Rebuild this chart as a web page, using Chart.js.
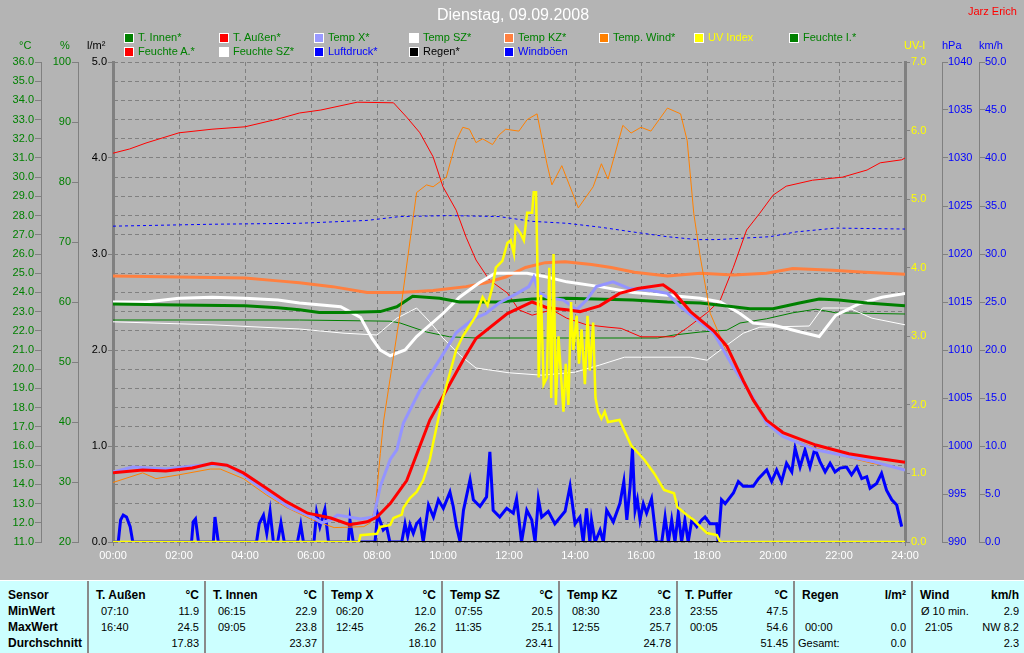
<!DOCTYPE html>
<html>
<head>
<meta charset="utf-8">
<script src="https://cdn.jsdelivr.net/npm/chart.js@4.4.0/dist/chart.umd.min.js"></script>
<style>
  html, body { margin: 0; padding: 0; background: #b4b4b4; }
  #wrap { position: relative; width: 1024px; height: 653px; overflow: hidden; font-family: "Liberation Sans", Arial, sans-serif; }
  #c { position: absolute; left: 0; top: 0; }
  .txt { position: absolute; white-space: nowrap; font-size: 11px; line-height: 13px; }
  .box { position: absolute; width: 8px; height: 8px; border: 1px solid #fff; }
  #tbl { position: absolute; left: 0; top: 580px; width: 1024px; height: 73px; background: #ccffff; border-top: 1px solid #fff; }
  .sep { position: absolute; top: 0; width: 2px; height: 73px; background: #8a8a8a; }
  .cell { position: absolute; white-space: nowrap; font-size: 11px; line-height: 16px; color: #000; }
  .b { font-weight: bold; font-size: 12px; }
</style>
</head>
<body>
<div id="wrap">
  <canvas id="c" width="1024" height="578"></canvas>
  <div id="tbl"></div>
</div>
<script>
// ---- chart data (hours of day -> value) ----
const tAussenT = [0, 0.9, 1.6, 2.4, 3.0, 3.45, 3.95, 4.65, 5.25, 5.9, 6.6, 7.17, 7.7, 8.0, 8.4, 8.9, 9.6, 10.2, 10.65, 11.0, 11.95, 12.7, 13.15, 13.75, 14.15, 14.75, 15.35, 15.9, 16.67, 17.0, 17.5, 18.2, 18.6, 19.1, 19.4, 19.8, 20.3, 21.3, 22.3, 23.0, 24.0];
const tAussenV = [14.6, 14.75, 14.7, 14.85, 15.1, 15.0, 14.6, 13.8, 13.1, 12.5, 12.25, 11.9, 12.05, 12.3, 13.0, 14.2, 17.35, 19.2, 20.6, 21.6, 22.9, 23.5, 23.2, 23.1, 23.0, 23.3, 23.95, 24.2, 24.4, 24.0, 23.0, 22.0, 21.2, 19.4, 18.4, 17.35, 16.7, 16.05, 15.6, 15.4, 15.15];

const tempXT = [0, 0.6, 1.6, 2.95, 3.45, 3.95, 4.65, 5.35, 6.05, 6.33, 6.6, 6.8, 7.5, 7.9, 8.1, 8.4, 8.6, 8.8, 9.3, 9.9, 10.4, 10.9, 11.3, 11.7, 12.25, 12.6, 12.75, 12.9, 13.15, 13.65, 14.05, 14.35, 14.65, 15.15, 15.65, 16.3, 16.8, 17.2, 17.6, 18.2, 18.8, 19.4, 19.8, 20.3, 21.3, 22.3, 23.0, 24.0];
const tempXV = [14.65, 14.9, 14.8, 15.05, 15.0, 14.5, 13.6, 12.8, 12.3, 12.0, 12.15, 12.4, 12.2, 12.3, 13.9, 15.3, 15.8, 17.2, 18.9, 20.5, 21.9, 22.6, 22.9, 23.45, 23.95, 24.3, 24.8, 24.0, 23.75, 23.6, 23.1, 23.6, 24.3, 24.55, 24.2, 24.1, 23.95, 23.25, 22.7, 21.9, 20.1, 18.5, 17.2, 16.5, 15.8, 15.45, 15.2, 14.75];

const tempWindT = [0, 0.9, 1.3, 2.0, 2.95, 3.25, 3.95, 4.65, 5.25, 6.05, 6.7, 7.6, 7.8, 7.95, 8.1, 8.2, 8.7, 9.2, 9.5, 9.7, 10.1, 10.4, 10.6, 10.8, 11.0, 11.2, 11.5, 11.7, 11.9, 12.3, 12.55, 12.85, 13.15, 13.3, 13.6, 14.1, 14.55, 14.8, 15.0, 15.45, 15.7, 16.0, 16.3, 16.8, 17.2, 17.4, 17.6, 17.8, 18.1, 18.4, 18.6, 19.1, 19.4, 19.8, 20.3, 21.3, 22.3, 23.0, 24.0];
const tempWindV = [14.1, 14.6, 14.3, 14.5, 14.8, 14.8, 14.3, 13.45, 12.8, 12.15, 11.75, 11.8, 12.0, 12.8, 15.6, 17.3, 22.9, 29.2, 29.6, 29.5, 30.0, 31.9, 32.6, 32.5, 31.8, 32.0, 31.7, 32.2, 32.5, 32.4, 33.0, 33.3, 30.7, 29.6, 30.6, 28.4, 29.5, 30.7, 29.9, 32.7, 32.3, 32.6, 32.4, 33.6, 33.3, 31.9, 28.1, 25.8, 22.9, 21.7, 20.8, 19.3, 18.3, 17.2, 16.5, 15.9, 15.4, 15.1, 14.8];

const tempSZT = [0, 1, 2, 3, 4, 5, 5.65, 6.9, 7.5, 7.85, 8.1, 8.4, 8.85, 9.2, 10.0, 10.5, 11.1, 11.58, 12.55, 13.15, 13.75, 14.75, 15.75, 16.8, 17.8, 18.4, 19.0, 19.4, 20.0, 20.8, 21.4, 21.9, 22.6, 23.3, 24.0];
const tempSZV = [23.5, 23.5, 23.7, 23.75, 23.7, 23.6, 23.45, 23.25, 22.7, 21.6, 21.0, 20.7, 21.0, 21.7, 22.9, 23.75, 24.5, 25.0, 25.0, 24.8, 24.55, 24.3, 24.0, 23.85, 23.7, 23.5, 22.9, 22.4, 22.3, 21.95, 21.7, 22.8, 23.4, 23.75, 23.95];

const tempKZT = [0, 2, 4, 5, 5.65, 6.65, 7.7, 8.7, 9.7, 10.7, 11.3, 11.9, 12.5, 13.1, 13.7, 14.5, 15.1, 15.8, 16.8, 17.8, 18.8, 19.8, 20.6, 21.8, 22.8, 24];
const tempKZV = [24.85, 24.8, 24.75, 24.6, 24.5, 24.3, 24.0, 24.0, 24.1, 24.3, 24.5, 24.8, 25.3, 25.55, 25.6, 25.45, 25.3, 25.05, 24.85, 25.0, 24.9, 25.0, 25.25, 25.15, 25.05, 24.95];

const tInnenT = [0, 2, 4, 5, 5.65, 6.25, 7, 8.1, 8.6, 9.08, 9.9, 10.5, 11.7, 12.7, 13.75, 15.75, 16.8, 17.8, 18.8, 19.3, 20.0, 20.8, 21.4, 22.0, 22.85, 24.0];
const tInnenV = [23.4, 23.35, 23.3, 23.2, 23.1, 22.95, 22.95, 23.0, 23.25, 23.8, 23.7, 23.5, 23.5, 23.65, 23.7, 23.6, 23.5, 23.45, 23.25, 23.15, 23.15, 23.45, 23.65, 23.6, 23.45, 23.3];

const feuchteIT = [0, 5.65, 8.4, 8.7, 9.5, 10.2, 11, 14, 16.5, 17.0, 17.8, 18.6, 19.0, 19.8, 20.6, 21.3, 21.9, 24];
const feuchteIV = [57, 57, 56.8, 56.5, 55, 54.2, 54, 54, 54, 54.5, 55, 55.3, 56.5, 57.2, 58.2, 58.8, 58.2, 58];

const feuchteAT = [0, 0.5, 1, 2, 3, 4, 5, 5.65, 6.3, 7.4, 8.5, 8.9, 9.3, 9.7, 10.0, 10.4, 10.7, 11.0, 11.4, 11.95, 12.3, 12.7, 13.3, 13.75, 14.35, 15.0, 15.4, 16.0, 17.0, 17.4, 18.0, 18.4, 18.8, 19.2, 19.6, 20.0, 20.4, 21.2, 22.1, 22.85, 23.25, 23.9, 24];
const feuchteAV = [84.8, 85.5, 86.5, 88.2, 88.8, 89.2, 90.5, 91.5, 92, 93.3, 93.2, 90.8, 88.2, 84.2, 79.2, 75.3, 70.8, 67, 63.7, 61.5, 58.7, 57.8, 58.7, 57.3, 56.2, 55.8, 55.6, 54.2, 54.2, 55.7, 58.2, 60.3, 65.8, 72, 74.8, 77.8, 79.3, 80.3, 80.8, 82, 83.2, 83.7, 84];

const feuchteSZT = [0, 3, 5.65, 7.0, 8.0, 8.6, 9.2, 9.6, 10.0, 10.5, 11.0, 12, 13, 14, 14.75, 15.5, 17.5, 18.0, 18.6, 19.1, 19.6, 21.1, 21.5, 22.3, 23.0, 24];
const feuchteSZV = [56.7, 56.2, 55.5, 54.8, 54.5, 57.3, 59, 56.7, 54, 51.2, 49, 48.2, 47.8, 48.3, 49.5, 50.8, 50.8, 50.3, 52.8, 54.8, 55.8, 56, 59, 59, 57.3, 56.2];

const druckT = [0, 3, 5.65, 7.7, 8.7, 10.2, 11.7, 12.7, 13.75, 14.75, 15.75, 16.8, 17.7, 18.3, 19.9, 20.7, 21.9, 24];
const druckV = [1022.9, 1023.1, 1023.2, 1023.5, 1023.9, 1024.0, 1023.9, 1023.4, 1023.2, 1022.8, 1022.3, 1021.8, 1021.5, 1021.5, 1021.8, 1022.3, 1022.7, 1022.6];

const regenT = [0, 24];
const regenV = [0, 0];

const uvT = [0, 7.45, 7.5, 8.0, 8.1, 8.4, 8.5, 8.75, 8.8, 9.0, 9.2, 9.4, 9.6, 9.7, 9.85, 10.0, 10.2, 10.4, 10.6, 10.8, 11.0, 11.2, 11.35, 11.5, 11.6, 11.8, 11.95, 12.05, 12.15, 12.2, 12.35, 12.45, 12.55, 12.7, 12.75, 12.82, 12.87, 12.9, 12.97, 13.05, 13.15, 13.22, 13.28, 13.35, 13.42, 13.5, 13.58, 13.65, 13.72, 13.8, 13.88, 13.95, 14.05, 14.12, 14.2, 14.3, 14.38, 14.45, 14.55, 14.62, 14.7, 14.8, 14.9, 15.0, 15.35, 15.7, 16.1, 16.4, 16.7, 17.0, 17.1, 17.4, 17.6, 17.8, 18.0, 18.3, 18.4, 24];
const uvV = [0, 0, 0.1, 0.12, 0.22, 0.25, 0.35, 0.4, 0.5, 0.64, 0.73, 0.9, 1.2, 1.44, 1.78, 2.1, 2.45, 2.8, 3.0, 3.15, 3.3, 3.57, 3.45, 3.72, 4.0, 4.1, 4.36, 4.4, 4.2, 4.6, 4.5, 4.4, 4.8, 4.8, 5.1, 5.1, 3.8, 2.4, 3.6, 2.3, 2.4, 4.0, 2.1, 4.2, 2.0, 3.0, 2.4, 1.9, 2.6, 2.0, 3.5, 2.8, 3.3, 2.6, 3.1, 2.3, 3.3, 2.5, 3.2, 2.1, 1.9, 1.8, 1.9, 1.75, 1.78, 1.41, 1.2, 1.0, 0.76, 0.71, 0.51, 0.39, 0.32, 0.22, 0.13, 0.1, 0, 0];

const windT = [0, 0.16, 0.23, 0.31, 0.41, 0.52, 0.6, 2.38, 2.43, 2.5, 2.59, 3.04, 3.09, 3.19, 4.35, 4.43, 4.56, 4.66, 4.76, 4.86, 4.99, 5.09, 5.19, 5.59, 5.69, 5.77, 6.09, 6.17, 6.27, 6.42, 6.53, 7.13, 7.18, 7.28, 7.94, 8.02, 8.19, 8.29, 8.39, 8.75, 8.85, 8.93, 9.0, 9.1, 9.2, 9.3, 9.4, 9.56, 9.71, 9.86, 10.01, 10.21, 10.31, 10.41, 10.52, 10.62, 10.82, 10.92, 11.12, 11.32, 11.42, 11.52, 11.72, 11.93, 12.13, 12.23, 12.38, 12.54, 12.69, 12.79, 12.89, 12.99, 13.19, 13.39, 13.7, 13.85, 14.0, 14.15, 14.25, 14.35, 14.45, 14.5, 14.61, 14.76, 14.86, 14.96, 15.16, 15.36, 15.48, 15.57, 15.67, 15.74, 15.82, 15.89, 15.97, 16.07, 16.17, 16.32, 16.47, 16.63, 16.73, 16.83, 16.93, 17.03, 17.13, 17.23, 17.33, 17.43, 17.54, 17.69, 17.84, 17.94, 18.09, 18.29, 18.34, 18.44, 18.55, 18.8, 18.95, 19.1, 19.4, 19.56, 19.81, 19.96, 20.11, 20.26, 20.41, 20.57, 20.67, 20.82, 20.97, 21.12, 21.27, 21.42, 21.58, 21.73, 21.88, 22.03, 22.23, 22.38, 22.54, 22.69, 22.84, 22.94, 23.14, 23.29, 23.44, 23.6, 23.75, 23.9];
const windV = [0, 0, 2.3, 2.8, 2.6, 1.6, 0, 0, 2.1, 2.4, 0, 0, 2.6, 0, 0, 1.9, 2.8, 0.9, 3.2, 0, 0, 2.0, 0, 0, 1.8, 0, 0, 3.1, 1.6, 3.4, 0, 0, 2.3, 0, 0, 2.9, 1.25, 1.6, 0, 0, 1.9, 0.6, 1.8, 0.9, 1.9, 2.3, 0, 3.85, 2.6, 4.4, 3.5, 5.2, 3.7, 1.6, 0, 3.3, 6.5, 4.4, 3.7, 4.7, 9.4, 3.3, 2.6, 3.5, 3.0, 4.5, 0, 3.3, 2.3, 0, 4.5, 2.6, 3.2, 1.9, 3.2, 5.8, 1.9, 2.6, 0, 3.5, 0, 2.3, 0, 1.25, 0, 3.3, 2.1, 4.0, 6.3, 2.3, 5.8, 9.75, 3.3, 4.4, 2.3, 4.0, 3.0, 4.5, 0, 0, 2.6, 0, 2.3, 0, 3.0, 0, 2.3, 0, 2.3, 1.6, 2.3, 2.6, 1.9, 1.9, 0, 4.4, 4.0, 5.1, 6.3, 5.8, 5.8, 6.6, 7.5, 6.3, 7.5, 6.3, 8.2, 7.3, 9.75, 7.8, 9.6, 7.8, 9.75, 8.4, 7.3, 8.2, 7.3, 7.7, 7.8, 7.0, 7.8, 6.6, 6.8, 5.6, 6.1, 7.15, 5.4, 4.4, 3.85, 1.6];

// ---- legend ----
const legendNames = ['T. Innen*', 'T. Außen*', 'Temp X*', 'Temp SZ*', 'Temp KZ*', 'Temp. Wind*', 'UV Index', 'Feuchte I.*',
                     'Feuchte A.*', 'Feuchte SZ*', 'Luftdruck*', 'Regen*', 'Windböen'];
const legendBoxes = ['#008000', '#ff0000', '#9999ff', '#ffffff', '#ff8040', '#ff8000', '#ffff00', '#008000',
                     '#ff0000', '#ffffff', '#0000ff', '#000000', '#0000ff'];
const legendText = ['#008000', '#008000', '#008000', '#008000', '#008000', '#008000', '#ffff00', '#008000',
                    '#008000', '#008000', '#0000ff', '#000000', '#0000ff'];

// ---- statistics table ----
const tblEdges = [0, 88, 205, 323, 442, 559, 677, 794, 912, 1024];
const rowNames = ['Sensor', 'MinWert', 'MaxWert', 'Durchschnitt'];
const tblHeads = ['T. Außen', 'T. Innen', 'Temp X', 'Temp SZ', 'Temp KZ', 'T. Puffer', 'Regen', 'Wind'];
const tblUnits = ['°C', '°C', '°C', '°C', '°C', '°C', 'l/m²', 'km/h'];
const minTimes = ['07:10', '06:15', '06:20', '07:55', '08:30', '23:55', '', 'Ø 10 min.'];
const minVals = ['11.9', '22.9', '12.0', '20.5', '23.8', '47.5', '', '2.9'];
const maxTimes = ['16:40', '09:05', '12:45', '11:35', '12:55', '00:05', '00:00', '21:05'];
const maxVals = ['24.5', '23.8', '26.2', '25.1', '25.7', '54.6', '0.0', 'NW 8.2'];
const avgNames = ['', '', '', '', '', '', 'Gesamt:', ''];
const avgVals = ['17.83', '23.37', '18.10', '23.41', '24.78', '51.45', '0.0', '2.3'];

const wrap = document.getElementById('wrap');
function addText(parent, cls, txt, left, top, color, extra) {
  const d = document.createElement('div');
  d.className = cls;
  d.textContent = txt;
  d.style.left = left + 'px';
  d.style.top = top + 'px';
  if (color) d.style.color = color;
  if (extra) Object.assign(d.style, extra);
  parent.appendChild(d);
  return d;
}

// title + author
addText(wrap, 'txt', 'Dienstag, 09.09.2008', 0, 6, '#ffffff', { width: '1026px', textAlign: 'center', fontSize: '16px', lineHeight: '18px' });
addText(wrap, 'txt', 'Jarz Erich', 968, 5, '#ff0000', { fontSize: '11px' });

// legend
legendNames.forEach((name, i) => {
  const col = i < 8 ? i : i - 8;
  const row = i < 8 ? 0 : 1;
  const x = 124 + col * 95;
  const y = 33 + row * 14;
  const b = document.createElement('div');
  b.className = 'box';
  b.style.left = x + 'px';
  b.style.top = y + 'px';
  b.style.background = legendBoxes[i];
  wrap.appendChild(b);
  addText(wrap, 'txt', name, x + 14, y - 2, legendText[i]);
});

// axis titles
addText(wrap, 'txt', '°C', 19, 39, '#008000');
addText(wrap, 'txt', '%', 60, 39, '#008000');
addText(wrap, 'txt', 'l/m²', 87, 39, '#000000');
addText(wrap, 'txt', 'UV-I', 904, 39, '#ffff00');
addText(wrap, 'txt', 'hPa', 942, 39, '#0000ff');
addText(wrap, 'txt', 'km/h', 979, 39, '#0000ff');

// table
const tbl = document.getElementById('tbl');
const rowTop = [6, 22, 38, 54];
rowNames.forEach((n, r) => addText(tbl, 'cell b', n, 8, rowTop[r]));
for (let c = 0; c < tblHeads.length; c++) {
  const l = tblEdges[c + 1];
  const r = tblEdges[c + 2];
  const rightPad = (1024 - r) + (c === 7 ? 5 : 6);
  const sep = document.createElement('div');
  sep.className = 'sep';
  sep.style.left = (l - 1) + 'px';
  tbl.appendChild(sep);
  addText(tbl, 'cell b', tblHeads[c], l + 8, rowTop[0]);
  addText(tbl, 'cell b', tblUnits[c], 0, rowTop[0], null, { left: 'auto', right: rightPad + 'px' });
  const tOff = c === 7 ? 9 : (c === 6 ? 11 : 13);
  addText(tbl, 'cell', minTimes[c], l + tOff, rowTop[1]);
  addText(tbl, 'cell', minVals[c], 0, rowTop[1], null, { left: 'auto', right: rightPad + 'px' });
  addText(tbl, 'cell', maxTimes[c], l + (c === 7 ? 13 : tOff), rowTop[2]);
  addText(tbl, 'cell', maxVals[c], 0, rowTop[2], null, { left: 'auto', right: rightPad + 'px' });
  addText(tbl, 'cell', avgNames[c], l + 4, rowTop[3]);
  addText(tbl, 'cell', avgVals[c], 0, rowTop[3], null, { left: 'auto', right: rightPad + 'px' });
}

// ---- chart ----
Chart.defaults.font.family = '"Liberation Sans", Arial, sans-serif';
Chart.defaults.font.size = 11;

const gridCol = '#808080';
const pts = (ts, vs) => ts.map((t, i) => ({ x: t, y: vs[i] }));
function series(label, ts, vs, color, width, axis, order, extra) {
  return Object.assign({
    label, data: pts(ts, vs), yAxisID: axis, order,
    borderColor: color, backgroundColor: color, borderWidth: width,
    pointRadius: 0, tension: 0, fill: false
  }, extra || {});
}

const datasets = [
  series('UV Index', uvT, uvV, '#ffff00', 2.5, 'yU', 0),
  series('Regen*', regenT, regenV, '#000000', 2, 'yR', 1),
  series('T. Außen*', tAussenT, tAussenV, '#ff0000', 3, 'yC', 2),
  series('Temp X*', tempXT, tempXV, '#9494ff', 3, 'yC', 3),
  series('Temp. Wind*', tempWindT, tempWindV, '#ff8000', 1, 'yC', 4),
  series('T. Innen*', tInnenT, tInnenV, '#008000', 3, 'yC', 5),
  series('Temp SZ*', tempSZT, tempSZV, '#ffffff', 3, 'yC', 6),
  series('Temp KZ*', tempKZT, tempKZV, '#ff8040', 3, 'yC', 7),
  series('Feuchte A.*', feuchteAT, feuchteAV, '#ff0000', 1, 'yP', 8),
  series('Feuchte SZ*', feuchteSZT, feuchteSZV, '#ffffff', 1, 'yP', 9),
  series('Feuchte I.*', feuchteIT, feuchteIV, '#008000', 1, 'yP', 10),
  series('Luftdruck*', druckT, druckV, '#0000ff', 1, 'yH', 11, { borderDash: [3, 3] }),
  series('Windböen', windT, windV, '#0000ff', 3, 'yW', 12)
];

const sideAxis = (pos, weight, min, max, step, color, width, tick, pad, borderW, fmt) => ({
  type: 'linear', position: pos, weight, min, max,
  ticks: { stepSize: step, autoSkip: false, color, padding: pad, callback: fmt },
  grid: { drawOnChartArea: false, tickLength: tick, tickColor: gridCol, color: gridCol },
  border: { display: true, color: gridCol, width: borderW },
  afterFit: s => { s.width = width; }
});
const f1 = v => Number(v).toFixed(1);
const f0 = v => String(v);

new Chart(document.getElementById('c'), {
  type: 'line',
  data: { datasets },
  options: {
    responsive: false,
    animation: false,
    devicePixelRatio: 1,
    events: [],
    layout: { padding: { top: 62, left: 0, right: 0, bottom: 0 } },
    plugins: { legend: { display: false }, title: { display: false }, tooltip: { enabled: false } },
    scales: {
      x: {
        type: 'linear', position: 'bottom', min: 0, max: 24,
        ticks: { stepSize: 2, autoSkip: false, maxRotation: 0, color: '#ffffff', padding: 3,
                 callback: v => String(v).padStart(2, '0') + ':00' },
        grid: { color: gridCol, tickLength: 4, tickColor: gridCol },
        border: { display: false, dash: [4, 3] },
        afterFit: s => { s.height = 36; }
      },
      yC: {
        type: 'linear', position: 'left', weight: 3, min: 11, max: 36,
        ticks: { stepSize: 1, autoSkip: false, color: '#008000', padding: 1, callback: f1 },
        grid: { color: gridCol, tickLength: 6, tickColor: gridCol },
        border: { display: true, color: gridCol, width: 1, dash: [4, 3] },
        afterFit: s => { s.width = 41; }
      },
      yP: sideAxis('left', 2, 20, 100, 10, '#008000', 37, 6, 1, 1, f0),
      yR: sideAxis('left', 1, 0, 5, 1, '#000000', 35, 5, 1, 3, f1),
      yU: sideAxis('right', 1, 0, 7, 1, '#ffff00', 37, 5, 1, 3, f1),
      yH: sideAxis('right', 2, 990, 1040, 5, '#0000ff', 37, 6, 0, 1, f0),
      yW: sideAxis('right', 3, 0, 50, 5, '#0000ff', 45, 6, 0, 1, f1)
    }
  }
});
</script>
</body>
</html>
